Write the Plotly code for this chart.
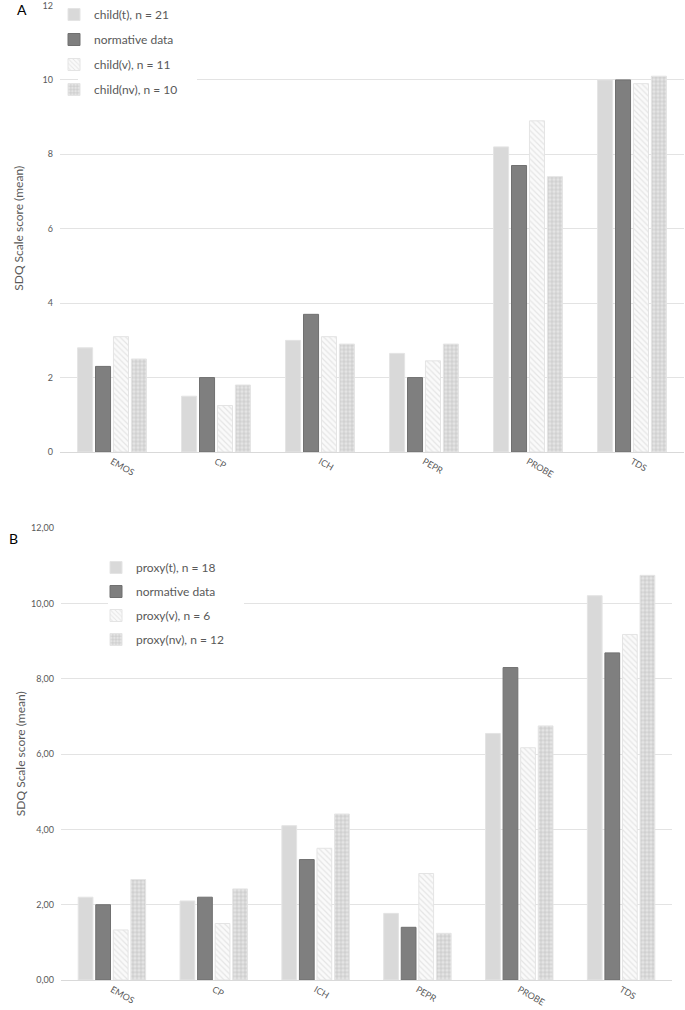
import plotly.graph_objects as go

W, H = 685, 1010

categories = ["EMOS", "CP", "ICH", "PEPR", "PROBE", "TDS"]

# Panel A
a_names = ["child(t), n = 21", "normative data", "child(v), n = 11", "child(nv), n = 10"]
a_child_t = [2.8, 1.5, 3.0, 2.65, 8.2, 10.0]
a_norm = [2.3, 2.0, 3.7, 2.0, 7.7, 10.0]
a_child_v = [3.1, 1.25, 3.1, 2.45, 8.9, 9.9]
a_child_nv = [2.5, 1.8, 2.9, 2.9, 7.4, 10.1]

# Panel B
b_names = ["proxy(t), n = 18", "normative data", "proxy(v), n = 6", "proxy(nv), n = 12"]
b_proxy_t = [2.2, 2.1, 4.1, 1.77, 6.55, 10.21]
b_norm = [2.0, 2.2, 3.2, 1.4, 8.3, 8.69]
b_proxy_v = [1.33, 1.5, 3.5, 2.83, 6.17, 9.18]
b_proxy_nv = [2.67, 2.42, 4.41, 1.24, 6.75, 10.75]

y_ticks = [0, 2, 4, 6, 8, 10, 12]
a_tick_labels = ["0", "2", "4", "6", "8", "10", "12"]
b_tick_labels = ["0,00", "2,00", "4,00", "6,00", "8,00", "10,00", "12,00"]
y_title = "SDQ Scale score (mean)"

TXT = "#595959"
FONT = "Lato, Open Sans, sans-serif"


def px_x(p):
    return p / W


def px_y(p):
    return 1 - p / H


styles = [
    dict(color="#d9d9d9", line=dict(color="#e4e4e4", width=1)),
    dict(color="#7f7f7f", line=dict(color="#707070", width=1)),
    dict(color="white", line=dict(color="#e4e4e4", width=1),
         pattern=dict(shape="\\", fgcolor="#d0d0d0", bgcolor="#fafafa", size=4, solidity=0.3)),
    dict(color="#d9d9d9", line=dict(color="#e4e4e4", width=1),
         pattern=dict(shape=".", fgcolor="#f8f8f8", bgcolor="#d0d0d0", size=4, solidity=0.5)),
]

fig = go.Figure()

a_series = [a_child_t, a_norm, a_child_v, a_child_nv]
b_series = [b_proxy_t, b_norm, b_proxy_v, b_proxy_nv]

for i, (name, vals) in enumerate(zip(a_names, a_series)):
    fig.add_trace(go.Bar(x=categories, y=vals, name=name, marker=styles[i],
                         xaxis="x", yaxis="y", legend="legend",
                         legendgroup="a%d" % i))
for i, (name, vals) in enumerate(zip(b_names, b_series)):
    fig.add_trace(go.Bar(x=categories, y=vals, name=name, marker=styles[i],
                         xaxis="x2", yaxis="y2", legend="legend2",
                         legendgroup="b%d" % i))

axis_common_x = dict(showgrid=False, showline=True, linecolor="#d9d9d9", linewidth=1,
                     ticks="", tickangle=30, automargin=False,
                     tickfont=dict(size=9, color=TXT, family=FONT))
axis_common_y = dict(range=[0, 12], tickvals=y_ticks, showgrid=True, gridcolor="#e3e3e3",
                     gridwidth=1, zeroline=False, showline=False, ticks="", automargin=False,
                     ticklabeloverflow="allow", ticklabelstandoff=6,
                     tickfont=dict(size=9, color=TXT, family=FONT))

A_TOP, A_BOT = 5.5, 452
B_TOP, B_BOT = 528.3, 980

fig.update_layout(
    width=W, height=H,
    margin=dict(l=0, r=0, t=0, b=0),
    paper_bgcolor="white", plot_bgcolor="white",
    barmode="group", bargap=0.31, bargroupgap=0.16,
    font=dict(family=FONT, color=TXT),
    showlegend=True,
    xaxis=dict(domain=[px_x(60), px_x(684)], anchor="y", **axis_common_x),
    yaxis=dict(domain=[px_y(A_BOT), px_y(A_TOP)], anchor="x", ticktext=a_tick_labels, **axis_common_y),
    xaxis2=dict(domain=[px_x(61), px_x(672)], anchor="y2", **axis_common_x),
    yaxis2=dict(domain=[px_y(B_BOT), px_y(B_TOP)], anchor="x2", ticktext=b_tick_labels, **axis_common_y),
    legend=dict(x=px_x(54), y=px_y(0), xanchor="left", yanchor="top", bgcolor="rgba(0,0,0,0)",
                font=dict(size=12, color=TXT, family=FONT), tracegroupgap=6,
                itemwidth=30, traceorder="grouped"),
    legend2=dict(x=px_x(96), y=px_y(553), xanchor="left", yanchor="top", bgcolor="rgba(0,0,0,0)",
                 font=dict(size=12, color=TXT, family=FONT), tracegroupgap=5,
                 itemwidth=30, traceorder="grouped"),
    shapes=[
        dict(type="rect", xref="paper", yref="paper", layer="above",
             x0=px_x(78), x1=px_x(197), y0=px_y(100), y1=px_y(8),
             fillcolor="white", line=dict(width=0)),
        dict(type="rect", xref="paper", yref="paper", layer="above",
             x0=px_x(108), x1=px_x(244), y0=px_y(652), y1=px_y(556),
             fillcolor="white", line=dict(width=0)),
    ],
    annotations=[
        dict(text="A", x=px_x(22), y=px_y(9), xref="paper", yref="paper", showarrow=False,
             xanchor="center", yanchor="middle",
             font=dict(size=14, color="black", family=FONT)),
        dict(text="B", x=px_x(13), y=px_y(538), xref="paper", yref="paper", showarrow=False,
             xanchor="center", yanchor="middle",
             font=dict(size=14, color="black", family=FONT)),
        dict(text=y_title, textangle=-90, x=px_x(19), y=px_y((A_TOP + A_BOT) / 2),
             xref="paper", yref="paper", showarrow=False, xanchor="center", yanchor="middle",
             font=dict(size=12, color=TXT, family=FONT)),
        dict(text=y_title, textangle=-90, x=px_x(20), y=px_y((B_TOP + B_BOT) / 2),
             xref="paper", yref="paper", showarrow=False, xanchor="center", yanchor="middle",
             font=dict(size=12, color=TXT, family=FONT)),
    ],
)

fig.write_html("out.html", config={"displayModeBar": False},
               post_script="document.body.style.margin='0';")
